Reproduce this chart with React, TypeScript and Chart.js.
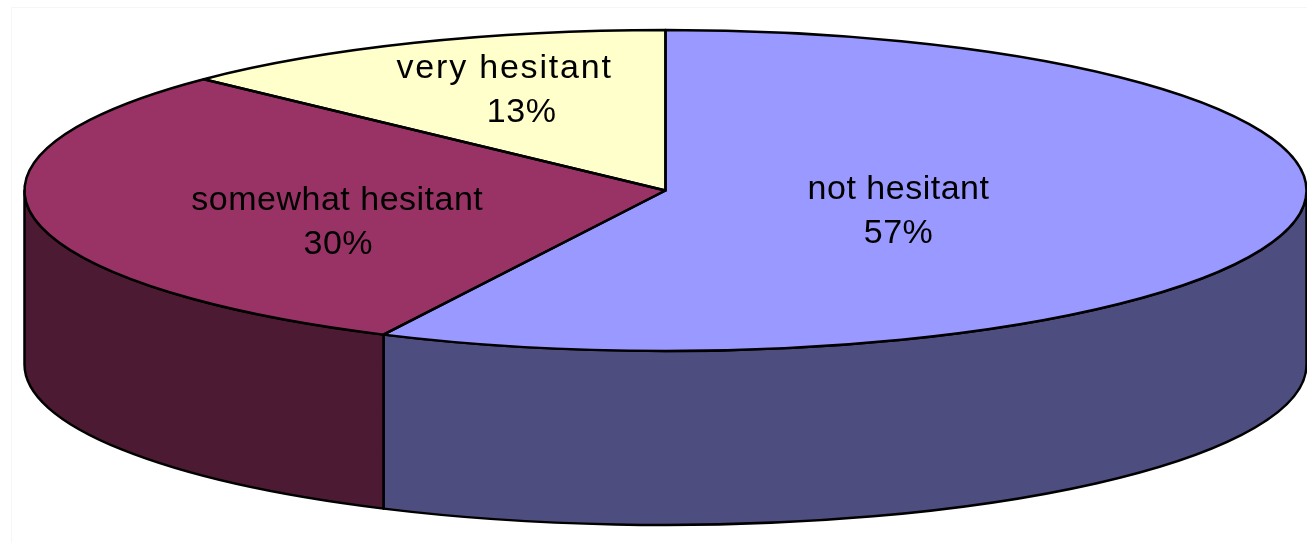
import React, { useEffect, useRef } from "react";
import { Chart, registerables } from "chart.js";

Chart.register(...registerables);

const categories = ["not hesitant", "somewhat hesitant", "very hesitant"];
const shares = [57.25, 29.95, 12.8];
const topColors = ["#9999FF", "#993366", "#FFFFCC"];
const sideColors = ["#4D4D80", "#4D1A33", "#80806A"];
const labelDx = [0.3635, -0.512, -0.251];
const labelDy = [0.12, 0.187, -0.632];
const percentShift = [0, 1, 17];
const labelSpacing = ["0.5px", "0.5px", "1.8px"];

const RX = 641;
const DEPTH = 174;
const LINE = 2.5;

function stretchOf(chart: any) {
  const arc = chart.getDatasetMeta(0).data[0];
  return { cx: arc.x, cy: arc.y, r: arc.outerRadius, sx: RX / arc.outerRadius };
}

const pie3d = {
  id: "pie3d",
  beforeDraw(chart: any) {
    const ctx = chart.ctx;
    ctx.save();
    ctx.fillStyle = "#fff";
    ctx.fillRect(0, 0, chart.width, chart.height);
    ctx.strokeStyle = "#F6F6F6";
    ctx.lineWidth = 1;
    ctx.strokeRect(11.5, 7.5, chart.width + 20, chart.height + 20);
    ctx.restore();
  },
  beforeDatasetsDraw(chart: any) {
    const ctx = chart.ctx;
    const { cx, cy, r, sx } = stretchOf(chart);
    const arcs = chart.getDatasetMeta(0).data;
    const toX = (a: number) => cx + RX * Math.cos(a);
    const toY = (a: number) => cy + r * Math.sin(a);
    ctx.save();
    ctx.lineWidth = LINE;
    ctx.strokeStyle = "#000";
    ctx.lineJoin = "round";
    arcs.forEach((arc: any, i: number) => {
      const from = Math.max(arc.startAngle, 0);
      const to = Math.min(arc.endAngle, Math.PI);
      if (to <= from) return;
      ctx.beginPath();
      ctx.ellipse(cx, cy, RX, r, 0, from, to);
      ctx.lineTo(toX(to), toY(to) + DEPTH);
      ctx.ellipse(cx, cy + DEPTH, RX, r, 0, to, from, true);
      ctx.closePath();
      ctx.fillStyle = sideColors[i];
      ctx.fill();
      ctx.stroke();
    });
    ctx.restore();
    ctx.save();
    ctx.translate(cx, cy);
    ctx.scale(sx, 1);
    ctx.translate(-cx, -cy);
  },
  afterDatasetsDraw(chart: any) {
    const ctx = chart.ctx;
    ctx.restore();
    const { cx, cy, r } = stretchOf(chart);
    const arcs = chart.getDatasetMeta(0).data;
    ctx.save();
    ctx.lineWidth = LINE;
    ctx.strokeStyle = "#000";
    ctx.lineJoin = "round";
    arcs.forEach((arc: any) => {
      ctx.beginPath();
      ctx.moveTo(cx, cy);
      ctx.ellipse(cx, cy, RX, r, 0, arc.startAngle, arc.endAngle);
      ctx.closePath();
      ctx.stroke();
    });
    ctx.fillStyle = "#000";
    ctx.font = '34px "Liberation Sans", Arial, sans-serif';
    ctx.textAlign = "center";
    ctx.textBaseline = "middle";
    arcs.forEach((_arc: any, i: number) => {
      const x = cx + RX * labelDx[i];
      const y = cy + r * labelDy[i];
      (ctx as any).letterSpacing = labelSpacing[i];
      ctx.fillText(categories[i], x, y - 20);
      (ctx as any).letterSpacing = "0.5px";
      ctx.fillText(Math.round(shares[i]) + "%", x + percentShift[i], y + 24);
    });
    ctx.restore();
  },
};

export default function App() {
  const ref = useRef<HTMLCanvasElement>(null);
  useEffect(() => {
    document.body.style.margin = "0";
    document.body.style.background = "#fff";
    const chart = new Chart(ref.current as HTMLCanvasElement, {
      type: "pie",
      data: {
        labels: categories,
        datasets: [{ data: shares, backgroundColor: topColors, borderWidth: 0 }],
      },
      options: {
        animation: false,
        responsive: false,
        layout: { padding: { left: 24, right: 0, top: 30, bottom: 192 } },
        plugins: { legend: { display: false }, tooltip: { enabled: false } },
      },
      plugins: [pie3d],
    });
    return () => chart.destroy();
  }, []);
  return (
    <canvas
      ref={ref}
      width={1307}
      height={543}
      style={{ display: "block", width: 1307, height: 543 }}
    />
  );
}
